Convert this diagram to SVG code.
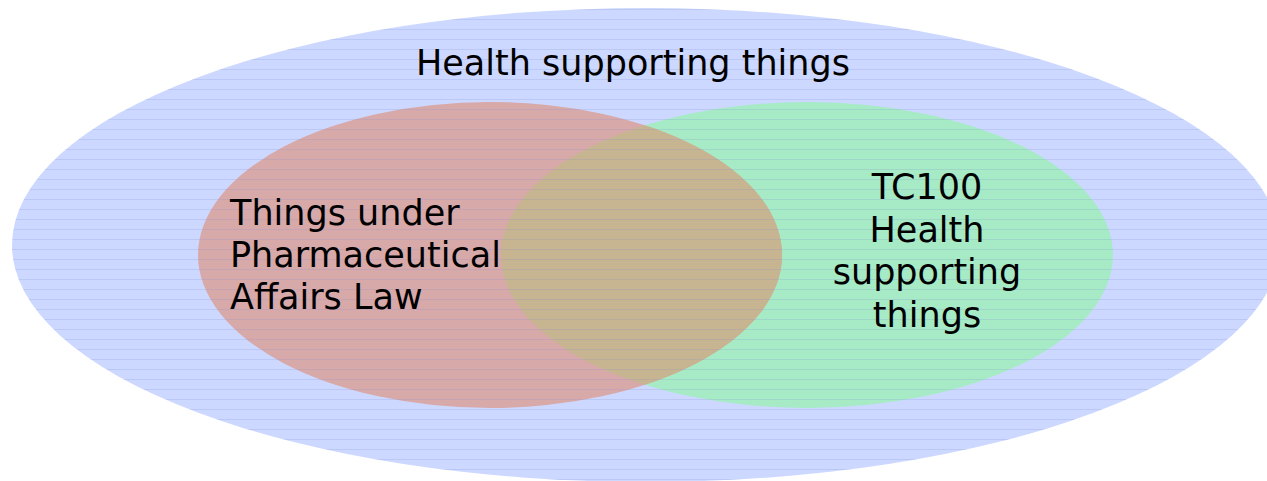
<svg xmlns="http://www.w3.org/2000/svg" width="1267" height="481" viewBox="0 0 1267 481">
<style>
text{font-family:"DejaVu Sans","Verdana",sans-serif;font-size:35px;fill:#000}
</style>
<defs>
<pattern id="lines" width="10" height="10" patternUnits="userSpaceOnUse">
<rect x="0" y="9" width="10" height="1" fill="#7f8fd0" fill-opacity="0.22"/>
</pattern>
<clipPath id="greenClip"><ellipse cx="807" cy="255" rx="306" ry="153"/></clipPath>
</defs>
<g id="all">
<ellipse cx="646" cy="245" rx="634" ry="237" fill="#ccd8ff"/>
</g>
<g id="tc100">
<ellipse cx="807" cy="255" rx="306" ry="153" fill="#a6ebc6"/>
</g>
<g id="pal">
<ellipse cx="490" cy="255" rx="292" ry="153" fill="#d8a9a9"/>
<ellipse cx="490" cy="255" rx="292" ry="153" fill="#c6b590" clip-path="url(#greenClip)"/>
</g>
<ellipse cx="646" cy="245" rx="634" ry="237" fill="url(#lines)"/>
<g id="labels">
<text x="633" y="75" text-anchor="middle">Health supporting things</text>
<text x="230" y="225">Things under</text>
<text x="230" y="267">Pharmaceutical</text>
<text x="230" y="309">Affairs Law</text>
<text x="927" y="199" text-anchor="middle">TC100</text>
<text x="927" y="242" text-anchor="middle">Health</text>
<text x="927" y="284" text-anchor="middle">supporting</text>
<text x="927" y="327" text-anchor="middle">things</text>
</g>
</svg>
